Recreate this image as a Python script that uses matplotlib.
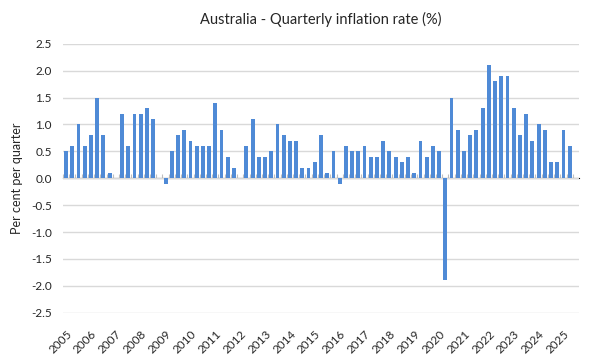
import matplotlib.pyplot as plt
import numpy as np

plt.rcParams['font.family'] = ['Lato', 'DejaVu Sans']

# quarterly CPI change, 2005 Q1 .. 2025 Q2
inflation = [0.5, 0.6, 1.0, 0.6, 0.8, 1.5, 0.8, 0.1,
             0.0, 1.2, 0.6, 1.2, 1.2, 1.3, 1.1, 0.0,
             -0.1, 0.5, 0.8, 0.9, 0.7, 0.6, 0.6, 0.6,
             1.4, 0.9, 0.4, 0.2, 0.0, 0.6, 1.1, 0.4,
             0.4, 0.5, 1.0, 0.8, 0.7, 0.7, 0.2, 0.2,
             0.3, 0.8, 0.1, 0.5, -0.1, 0.6, 0.5, 0.5,
             0.6, 0.4, 0.4, 0.7, 0.5, 0.4, 0.3, 0.4,
             0.1, 0.7, 0.4, 0.6, 0.5, -1.9, 1.5, 0.9,
             0.5, 0.8, 0.9, 1.3, 2.1, 1.8, 1.9, 1.9,
             1.3, 0.8, 1.2, 0.7, 1.0, 0.9, 0.3, 0.3,
             0.9, 0.6]
years = [str(y) for y in range(2005, 2026)]

fig = plt.figure(figsize=(6, 3.62), dpi=100)
ax = fig.add_axes([0.105, 0.136, 0.86, 0.743])

x = np.arange(len(inflation))
ax.bar(x, inflation, width=0.62, color='#4f8ad6', zorder=3)

ax.set_ylim(-2.5, 2.5)
ax.set_yticks(np.arange(-2.5, 2.51, 0.5))
ax.set_yticklabels([f'{v:.1f}' for v in np.arange(-2.5, 2.51, 0.5)])
ax.set_xlim(-0.5, 82.5)
ax.yaxis.grid(True, color='#d9d9d9', linewidth=1, zorder=0)
ax.tick_params(axis='y', length=0, labelsize=8.5, labelcolor='#262626', pad=8)

ax.set_xticks(x[::4])
ax.set_xticklabels(years, rotation=45, ha='right', rotation_mode='anchor')
ax.tick_params(axis='x', length=0, labelsize=8.5, labelcolor='#262626', pad=11)

for s in ax.spines.values():
    s.set_visible(False)

# axis line through zero with small category marks
zero = ax.secondary_xaxis(0.5)
zero.set_xticks(np.arange(-0.5, 82, 1))
zero.set_xticklabels([])
zero.tick_params(length=3, color='#bfbfbf', width=0.8)
zero.spines['bottom'].set_color('#bfbfbf')

ax.set_ylabel('Per cent per quarter', fontsize=9, color='#262626', labelpad=6)
ax.set_title('Australia - Quarterly inflation rate (%)', fontsize=10.5,
             color='#262626', pad=14)

plt.savefig('out.png', dpi=100)
plt.close()
